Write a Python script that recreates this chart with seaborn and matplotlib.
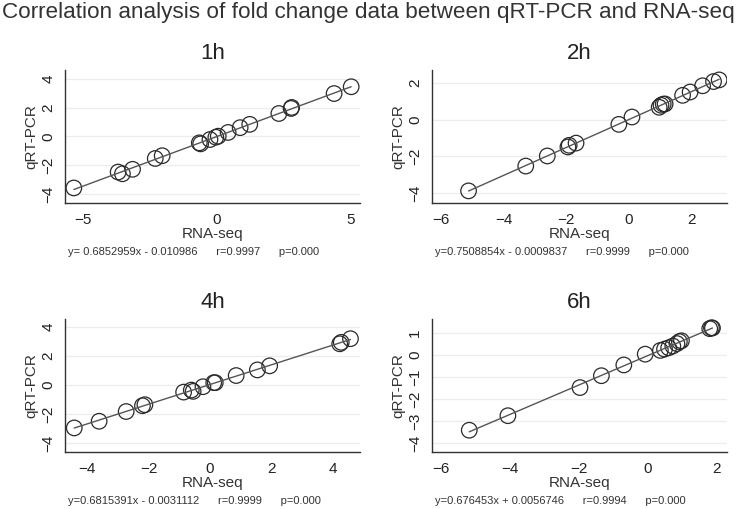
import numpy as np
import pandas as pd
import seaborn as sns
import matplotlib
matplotlib.use("Agg")
import matplotlib.pyplot as plt

# fold change values (RNA-seq, qRT-PCR)
rna_1h = [-5.35, -3.69, -3.53, -3.15, -2.30, -2.04, -0.65, -0.60, -0.25, -0.03, 0.06,
          0.43, 0.88, 1.24, 2.33, 2.79, 2.81, 4.40, 5.04]
qpcr_1h = [-3.56, -2.46, -2.58, -2.27, -1.52, -1.33, -0.44, -0.51, -0.21, -0.05, 0.02,
           0.28, 0.61, 0.84, 1.59, 1.94, 2.01, 2.97, 3.44]

rna_2h = [-5.12, -3.29, -2.60, -1.94, -1.90, -1.68, -0.31, 0.11, 0.98, 1.04, 1.11,
          1.17, 1.73, 1.97, 2.37, 2.72, 2.90]
qpcr_2h = [-3.88, -2.53, -1.98, -1.49, -1.40, -1.28, -0.26, 0.14, 0.67, 0.78, 0.84,
           0.85, 1.32, 1.50, 1.84, 2.07, 2.16]

rna_4h = [-4.42, -3.61, -2.73, -2.20, -2.12, -0.86, -0.61, -0.55, -0.23, 0.12, 0.17,
          0.85, 1.54, 1.94, 4.22, 4.27, 4.57]
qpcr_4h = [-2.96, -2.50, -1.83, -1.43, -1.36, -0.49, -0.35, -0.44, -0.12, 0.16, 0.16,
           0.65, 1.04, 1.32, 2.84, 2.94, 3.19]

rna_6h = [-5.18, -4.06, -1.97, -1.35, -0.70, -0.08, 0.36, 0.48, 0.60, 0.72, 0.84,
          0.91, 0.97, 1.79, 1.84, 1.87]
qpcr_6h = [-3.42, -2.76, -1.48, -0.94, -0.45, 0.04, 0.21, 0.27, 0.33, 0.41, 0.52,
           0.61, 0.65, 1.20, 1.24, 1.23]

panel_titles = ["1h", "2h", "4h", "6h"]
equations = [
    "y= 0.6852959x - 0.010986      r=0.9997      p=0.000",
    "y=0.7508854x - 0.0009837      r=0.9999      p=0.000",
    "y=0.6815391x - 0.0031112      r=0.9999      p=0.000",
    "y=0.676453x + 0.0056746      r=0.9994      p=0.000",
]
xticks_list = [[-5, 0, 5], [-6, -4, -2, 0, 2], [-4, -2, 0, 2, 4], [-6, -4, -2, 0, 2]]
yticks_list = [[-4, -2, 0, 2, 4], [-4, -2, 0, 2], [-4, -2, 0, 2, 4], [-4, -3, -2, -1, 0, 1]]
xlims = [(-5.68, 5.37), (-6.29, 3.15), (-4.72, 4.88), (-6.26, 2.29)]
ylims = [(-4.6, 4.6), (-4.54, 2.7), (-4.62, 4.55), (-4.41, 1.64)]

sns.set_style("white")
plt.rcParams["font.family"] = ["Liberation Sans", "DejaVu Sans"]

fig = plt.figure(figsize=(7.5, 5.09), dpi=100)
fig.text(0.003, 0.975, "Correlation analysis of fold change data between qRT-PCR and RNA-seq",
         fontsize=16.2, color="#333333", ha="left", va="center")

positions = [
    [0.0867, 0.6012, 0.3933, 0.2613],
    [0.576, 0.6012, 0.3933, 0.2613],
    [0.0867, 0.112, 0.3933, 0.2613],
    [0.576, 0.112, 0.3933, 0.2613],
]
datasets = [(rna_1h, qpcr_1h), (rna_2h, qpcr_2h), (rna_4h, qpcr_4h), (rna_6h, qpcr_6h)]
eq_y = [0.505, 0.505, 0.016, 0.016]

for i, (xs, ys) in enumerate(datasets):
    ax = fig.add_axes(positions[i])
    df = pd.DataFrame({"RNA-seq": xs, "qRT-PCR": ys})
    sns.regplot(x="RNA-seq", y="qRT-PCR", data=df, ci=None, ax=ax,
                scatter_kws={"s": 125, "facecolors": "none", "edgecolors": "#2a2a2a",
                             "linewidths": 0.9, "alpha": 1},
                line_kws={"color": "#555555", "lw": 1})
    ax.set_xlim(*xlims[i])
    ax.set_ylim(*ylims[i])
    ax.set_xticks(xticks_list[i])
    ax.set_yticks(yticks_list[i])
    ax.yaxis.grid(True, color="#ececec", lw=0.9)
    ax.set_axisbelow(True)
    for side in ["top", "right"]:
        ax.spines[side].set_visible(False)
    for side in ["left", "bottom"]:
        ax.spines[side].set_color("#333333")
        ax.spines[side].set_linewidth(1)
    ax.tick_params(axis="both", direction="out", length=5, width=0.9, color="#333333",
                   labelsize=11, labelcolor="#222222", pad=2)
    for lab in ax.get_yticklabels():
        lab.set_rotation(90)
        lab.set_va("center")
    ax.set_xlabel("RNA-seq", fontsize=11, color="#333333", labelpad=0)
    ax.set_ylabel("qRT-PCR", fontsize=11, color="#333333", labelpad=2)
    ax.set_title(panel_titles[i], fontsize=16, color="#222222", pad=8)
    fig.text(positions[i][0] + 0.004, eq_y[i], equations[i], fontsize=8,
             color="#333333", ha="left", va="center")

fig.savefig("out.png", dpi=100)
